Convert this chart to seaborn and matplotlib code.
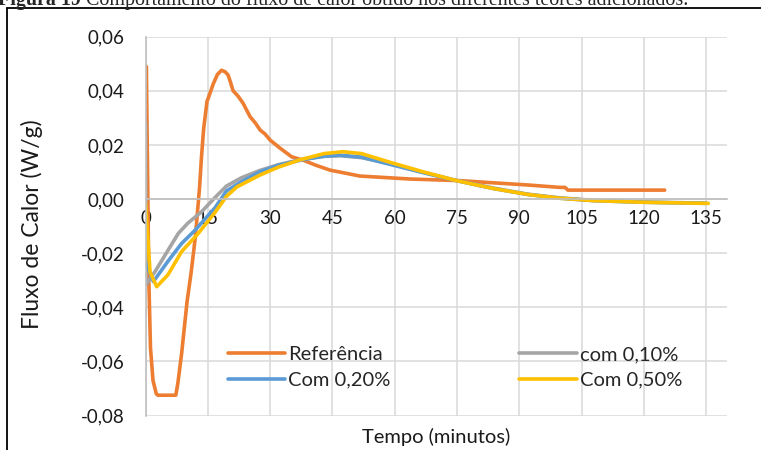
import numpy as np
import pandas as pd
import matplotlib
matplotlib.use("Agg")
import matplotlib.pyplot as plt
from matplotlib.lines import Line2D
import seaborn as sns

# --- heat-flow curves (time in minutes, heat flow in W/g) ---
t_ref = [0.0, 0.2, 0.5, 0.8, 1.2, 1.8, 2.6, 3.0, 5.0, 7.3, 7.8, 8.7, 10.0, 11.0,
         12.0, 13.0, 13.5, 14.0, 14.8, 15.5, 16.3, 17.3, 18.3, 19.2, 19.9, 20.5,
         21.1, 22.3, 23.5, 24.3, 25.2, 26.5, 27.6, 28.8, 30.0, 32.4, 35.2, 37.9,
         41.0, 44.4, 51.6, 63.7, 75.7, 83.7, 92.0, 99.8, 101.0, 101.7, 125.0]
v_ref = [0.029, 0.049, 0.010, -0.030, -0.055, -0.067, -0.0720, -0.0725, -0.0725,
         -0.0725, -0.068, -0.057, -0.038, -0.027, -0.014, 0.004, 0.016, 0.026,
         0.036, 0.039, 0.0425, 0.046, 0.0476, 0.047, 0.0458, 0.043, 0.040, 0.038,
         0.0354, 0.033, 0.0304, 0.028, 0.0255, 0.024, 0.0218, 0.0188, 0.0156,
         0.0144, 0.0125, 0.0107, 0.0085, 0.0074, 0.0068, 0.0060, 0.0052, 0.0043,
         0.0043, 0.0033, 0.0033]

t_010 = [0.0, 0.1, 2.3, 5.0, 7.9, 10.2, 13.5, 16.7, 19.5, 23.0, 27.6, 32.0, 38.0,
         43.0, 47.0, 52.0, 60.0, 67.0, 75.0, 84.0, 92.0, 100.0, 108.0, 120.0, 135.0]
v_010 = [0.028, -0.0317, -0.0268, -0.0200, -0.0127, -0.0089, -0.0047, 0.0005,
         0.0048, 0.0078, 0.0106, 0.0127, 0.0148, 0.0158, 0.0160, 0.0153, 0.0127,
         0.0098, 0.0068, 0.0040, 0.0018, 0.0004, -0.0005, -0.0011, -0.0015]

t_020 = [0.0, 1.9, 5.4, 8.7, 12.0, 16.7, 19.5, 23.0, 27.6, 32.0, 38.0, 43.0, 46.8,
         52.0, 59.7, 67.0, 74.9, 83.7, 92.0, 99.8, 108.0, 120.0, 135.0]
v_020 = [-0.0231, -0.0305, -0.0230, -0.0164, -0.0114, -0.0033, 0.0030, 0.0063,
         0.0101, 0.0125, 0.0146, 0.0158, 0.0162, 0.0155, 0.0125, 0.0097, 0.0068,
         0.0039, 0.0017, 0.0003, -0.0006, -0.0012, -0.0016]

t_050 = [0.0, 1.1, 2.7, 5.4, 8.7, 12.7, 16.7, 19.5, 22.0, 25.2, 27.6, 32.0, 37.2,
         43.0, 47.5, 52.0, 59.7, 67.0, 74.9, 83.7, 92.0, 99.8, 108.0, 120.0, 135.5]
v_050 = [-0.0015, -0.0270, -0.0324, -0.0280, -0.0194, -0.0127, -0.0050, 0.0010,
         0.0045, 0.0070, 0.0089, 0.0118, 0.0145, 0.0168, 0.0175, 0.0168, 0.0132,
         0.0100, 0.0068, 0.0039, 0.0017, 0.0003, -0.0006, -0.0012, -0.0016]

series_names = ["Referência", "com 0,10%", "Com 0,20%", "Com 0,50%"]
series_colors = ["#ED7D31", "#A5A5A5", "#5B9BD5", "#FFC000"]

x_ticks = [0, 15, 30, 45, 60, 75, 90, 105, 120, 135]
y_ticks = [-0.08, -0.06, -0.04, -0.02, 0.00, 0.02, 0.04, 0.06]

caption_bold = "Figura 19"
caption_rest = " Comportamento do fluxo de calor obtido nos diferentes teores adicionados."

# long-form table for seaborn
frames = []
for name, t, v in zip(series_names, [t_ref, t_010, t_020, t_050],
                      [v_ref, v_010, v_020, v_050]):
    frames.append(pd.DataFrame({"tempo": t, "fluxo": v, "amostra": name}))
df = pd.concat(frames, ignore_index=True)

sns.set_style("white")
plt.rcParams["font.family"] = ["Lato", "DejaVu Sans"]

W, H = 761, 450
fig = plt.figure(figsize=(W / 100, H / 100), dpi=100)

# plot area in pixel coordinates
left, right, top, bottom = 145.5, 727.0, 36.7, 415.5
ax = fig.add_axes([left / W, 1 - bottom / H, (right - left) / W, (bottom - top) / H])

sns.lineplot(data=df, x="tempo", y="fluxo", hue="amostra",
             hue_order=series_names, palette=series_colors,
             estimator=None, sort=False, legend=False, linewidth=2.6, ax=ax)
for ln in ax.lines:
    ln.set_solid_capstyle("round")
    ln.set_solid_joinstyle("round")

ax.set_xlim(0, 140)
ax.set_ylim(-0.08, 0.06)
ax.set_xticks(x_ticks)
ax.set_yticks(y_ticks)
ax.set_xticklabels([str(v) for v in x_ticks])
ax.set_yticklabels([f"{v:.2f}".replace(".", ",") for v in y_ticks])

grid_c = "#D9D9D9"
axis_c = "#BFBFBF"
ax.grid(True, color=grid_c, linewidth=1.1)
ax.set_axisbelow(True)
for s in ["top", "right"]:
    ax.spines[s].set_visible(False)
ax.spines["bottom"].set_position(("data", 0))
ax.spines["bottom"].set_color(axis_c)
ax.spines["left"].set_color(axis_c)
ax.spines["bottom"].set_linewidth(1.2)
ax.spines["left"].set_linewidth(1.2)
ax.tick_params(axis="y", length=5, width=1.1, color=axis_c, pad=10,
               labelsize=13.5, labelcolor="#1a1a1a")
ax.tick_params(axis="x", length=0, pad=8, labelsize=13.5, labelcolor="#1a1a1a")
ax.set_xlabel("")
ax.set_ylabel("")

fig.text(32 / W, 1 - 224 / H, "Fluxo de Calor (W/g)", rotation=90,
         ha="center", va="center", fontsize=16.5, color="#1a1a1a")
fig.text(436 / W, 1 - 437 / H, "Tempo (minutos)", ha="center", va="center",
         fontsize=14.5, color="#1a1a1a")

# legend: two rows, read row by row
order = [0, 2, 1, 3]
handles = [Line2D([], [], color=series_colors[i], linewidth=2.6) for i in order]
labels = [series_names[i] for i in order]
ax.legend(handles, labels, ncol=2, frameon=False, fontsize=14.5,
          loc="center", bbox_to_anchor=((455 - left) / (right - left),
                                        (bottom - 367.5) / (bottom - top)),
          handlelength=2.85, handletextpad=0.15, columnspacing=6.4,
          labelspacing=0.4, borderpad=0.0)

# outer frame
fig.add_artist(Line2D([7 / W, 1.0], [1 - 7.5 / H, 1 - 7.5 / H],
                      transform=fig.transFigure, color="black", linewidth=1.3))
fig.add_artist(Line2D([7 / W, 7 / W], [1 - 7.5 / H, 0.0],
                      transform=fig.transFigure, color="black", linewidth=1.3))

# caption above the frame (partly outside the canvas)
cap_y = 1 - 5 / H
t1 = fig.text(-2 / W, cap_y, caption_bold, fontweight="bold", fontsize=14.4,
              family="Liberation Serif", va="baseline", ha="left")
fig.canvas.draw()
bb = t1.get_window_extent(renderer=fig.canvas.get_renderer())
fig.text(bb.x1 / W, cap_y, caption_rest, fontsize=14.4,
         family="Liberation Serif", va="baseline", ha="left")

fig.savefig("out.png", dpi=100)
